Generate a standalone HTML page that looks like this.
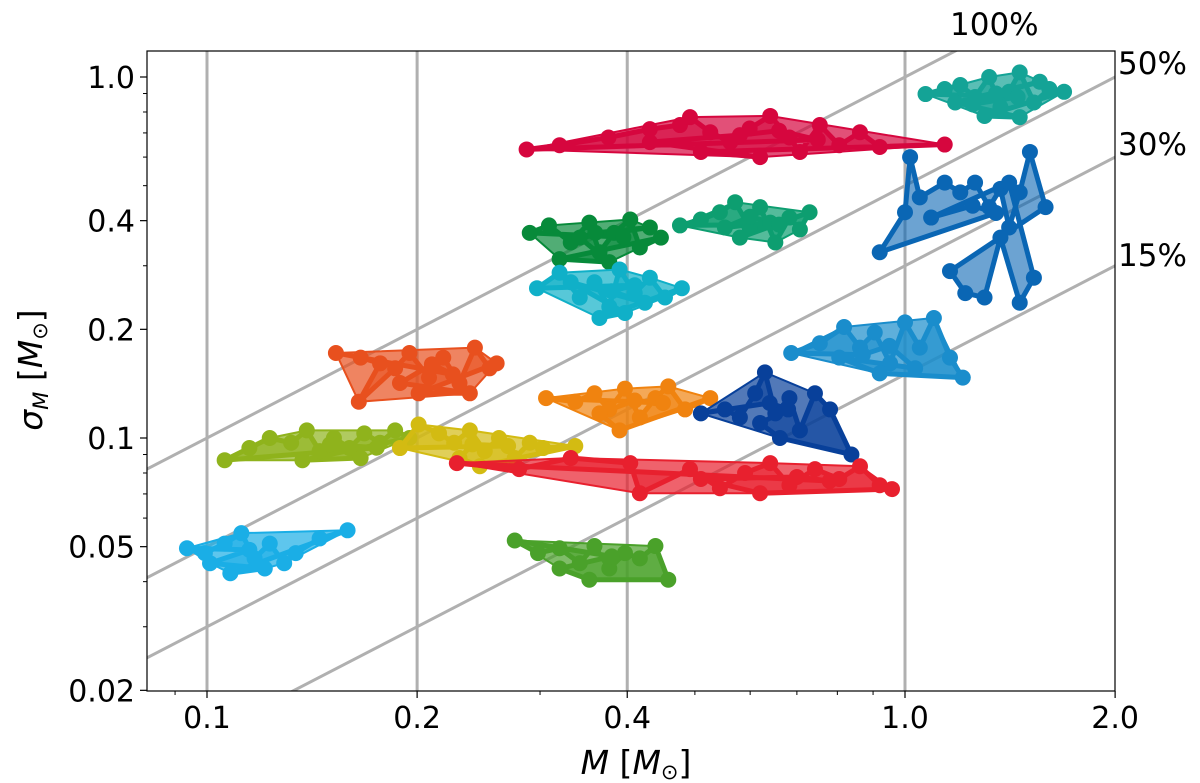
<!DOCTYPE html>
<html><head><meta charset="utf-8"><style>
body{margin:0;background:#fff;overflow:hidden;}
svg{display:block;}
svg text{font-family:"DejaVu Sans","Liberation Sans",sans-serif;fill:#000;}
</style></head><body>
<svg id="chart" width="1200" height="783" viewBox="0 0 1200 783" xmlns="http://www.w3.org/2000/svg">
<defs><clipPath id="clip"><rect x="147" y="51" width="968" height="640"/></clipPath></defs>
<g id="grid" clip-path="url(#clip)"></g>
<g id="marks" clip-path="url(#clip)"></g>
<rect x="147" y="51" width="968" height="640" fill="none" stroke="#000" stroke-width="1.2"/>
<g id="axes"></g>
<text x="636" y="774" font-size="33" text-anchor="middle"><tspan font-style="italic">M</tspan> [<tspan font-style="italic">M</tspan><tspan font-size="21" dy="5">⊙</tspan><tspan dy="-5">]</tspan></text>
<text transform="translate(42,370) rotate(-90)" font-size="33" text-anchor="middle"><tspan font-style="italic">σ</tspan><tspan font-style="italic" font-size="21" dy="6">M</tspan><tspan dy="-6"> [</tspan><tspan font-style="italic">M</tspan><tspan font-size="21" dy="5">⊙</tspan><tspan dy="-5">]</tspan></text>
</svg>
<script>
const xTicks=[0.1,0.2,0.4,1.0,2.0];
const xTickLabels=["0.1","0.2","0.4","1.0","2.0"];
const yTicks=[1.0,0.4,0.2,0.1,0.05,0.02];
const yTickLabels=["1.0","0.4","0.2","0.1","0.05","0.02"];
const ratioLines=[1.0,0.5,0.3,0.15];
const ratioLabels=["100%","50%","30%","15%"];
const colors=["#d6063e","#14a396","#078a3a","#0d9e70","#0a66b4","#10b0c8","#1a8dcc","#e8501e","#f0830f","#08409a","#8fb31c","#d3bb12","#e8202e","#1aaee6","#4aa12a"];
const c0M=[0.287,0.32,0.376,0.431,0.476,0.492,0.526,0.562,0.599,0.641,0.683,0.707,0.755,0.805,0.862,0.92,1.14,0.51,0.62,0.431,0.58,0.66,0.75];
const c0S=[0.63,0.647,0.68,0.717,0.736,0.774,0.703,0.66,0.72,0.78,0.68,0.62,0.736,0.647,0.703,0.64,0.65,0.62,0.6,0.66,0.69,0.71,0.67];
const c1M=[1.07,1.14,1.2,1.26,1.32,1.37,1.41,1.46,1.53,1.61,1.69,1.3,1.46,1.18,1.56,1.35,1.25,1.45];
const c1S=[0.897,0.926,0.95,0.88,1.0,0.825,0.91,1.03,0.85,0.926,0.91,0.78,0.774,0.85,0.97,0.9,0.84,0.88];
const c2M=[0.29,0.309,0.332,0.353,0.365,0.383,0.404,0.417,0.447,0.32,0.377,0.342,0.431,0.36,0.395];
const c2S=[0.37,0.388,0.348,0.395,0.327,0.37,0.403,0.337,0.359,0.313,0.307,0.359,0.383,0.37,0.36];
const c3M=[0.476,0.51,0.543,0.571,0.599,0.62,0.652,0.683,0.707,0.73,0.58,0.641,0.552,0.6,0.66];
const c3S=[0.388,0.403,0.422,0.45,0.383,0.436,0.348,0.408,0.378,0.422,0.359,0.395,0.383,0.41,0.39];
const c4M=[0.92,1.0,1.017,1.05,1.14,1.2,1.26,1.32,1.37,1.41,1.46,1.51,1.59,1.16,1.22,1.3,1.37,1.46,1.53,1.41,1.09,1.25,1.35];
const c4S=[0.327,0.422,0.6,0.464,0.51,0.479,0.51,0.436,0.49,0.383,0.479,0.62,0.436,0.29,0.252,0.245,0.359,0.237,0.278,0.51,0.408,0.44,0.42];
const c5M=[0.297,0.32,0.342,0.359,0.377,0.39,0.41,0.431,0.453,0.479,0.365,0.397,0.332,0.424,0.38,0.41];
const c5S=[0.26,0.287,0.245,0.27,0.231,0.293,0.252,0.278,0.245,0.26,0.215,0.222,0.27,0.237,0.255,0.265];
const c6M=[0.687,0.755,0.818,0.862,0.905,0.952,1.0,1.05,1.1,1.16,1.21,0.92,0.805,1.034,0.95,0.87];
const c6S=[0.172,0.183,0.203,0.178,0.196,0.161,0.209,0.178,0.215,0.167,0.147,0.151,0.167,0.156,0.18,0.17];
const c7M=[0.153,0.166,0.177,0.165,0.186,0.195,0.208,0.218,0.23,0.242,0.254,0.26,0.201,0.238,0.189,0.21,0.225];
const c7S=[0.172,0.167,0.161,0.126,0.156,0.172,0.147,0.167,0.142,0.178,0.156,0.161,0.133,0.133,0.142,0.16,0.15];
const c8M=[0.306,0.337,0.359,0.377,0.397,0.417,0.439,0.458,0.484,0.526,0.39,0.365,0.41,0.45];
const c8S=[0.129,0.126,0.133,0.12,0.137,0.114,0.129,0.139,0.12,0.129,0.105,0.117,0.127,0.125];
const c9M=[0.51,0.552,0.58,0.61,0.63,0.652,0.683,0.707,0.743,0.781,0.838,0.662,0.62,0.68,0.64];
const c9S=[0.117,0.12,0.114,0.133,0.152,0.117,0.129,0.105,0.133,0.12,0.09,0.1,0.11,0.12,0.125];
const c10M=[0.106,0.115,0.123,0.132,0.139,0.145,0.152,0.16,0.168,0.177,0.186,0.195,0.137,0.166,0.15,0.175];
const c10S=[0.0868,0.0938,0.1,0.097,0.105,0.092,0.1,0.0938,0.103,0.097,0.105,0.1,0.0868,0.088,0.096,0.094];
const c11M=[0.189,0.201,0.215,0.226,0.238,0.25,0.262,0.276,0.29,0.303,0.337,0.246,0.23,0.24,0.27];
const c11S=[0.0938,0.109,0.103,0.097,0.105,0.092,0.1,0.088,0.097,0.0938,0.095,0.0835,0.088,0.096,0.095];
const c12M=[0.228,0.28,0.332,0.404,0.417,0.492,0.543,0.59,0.641,0.683,0.743,0.805,0.862,0.92,0.958,0.62,0.51,0.7,0.78];
const c12S=[0.0852,0.082,0.088,0.0852,0.0703,0.082,0.0726,0.08,0.0852,0.074,0.082,0.077,0.0835,0.074,0.0722,0.0703,0.077,0.078,0.076];
const c13M=[0.0936,0.0993,0.106,0.112,0.117,0.123,0.129,0.134,0.145,0.159,0.108,0.121,0.101,0.115];
const c13S=[0.0495,0.048,0.051,0.0545,0.0464,0.051,0.045,0.048,0.0527,0.0555,0.0422,0.0435,0.045,0.049];
const c14M=[0.276,0.298,0.32,0.342,0.359,0.377,0.397,0.417,0.439,0.458,0.353,0.32,0.38];
const c14S=[0.052,0.048,0.0495,0.045,0.0502,0.0435,0.048,0.0464,0.0502,0.0405,0.0405,0.0435,0.047];
const clustersM=[c0M,c1M,c2M,c3M,c4M,c5M,c6M,c7M,c8M,c9M,c10M,c11M,c12M,c13M,c14M];
const clustersS=[c0S,c1S,c2S,c3S,c4S,c5S,c6S,c7S,c8S,c9S,c10S,c11S,c12S,c13S,c14S];

const NS="http://www.w3.org/2000/svg";
const X0=905, XD=698, Y0=77, YD=361;
const xs=m=>X0+Math.log10(m)*XD;
const ys=s=>Y0-Math.log10(s)*YD;
function mk(tag,attrs,parent){const e=document.createElementNS(NS,tag);for(const k in attrs)e.setAttribute(k,attrs[k]);parent.appendChild(e);return e;}
const grid=document.getElementById('grid'),marks=document.getElementById('marks'),axes=document.getElementById('axes');
xTicks.slice(0,4).forEach((t,i)=>{const l=mk('line',{x1:xs(t),x2:xs(t),y1:51,y2:691,stroke:'#b0b0b0','stroke-width':3},grid);

});
ratioLines.forEach((f,i)=>{const m1=0.05,m2=3;const l=mk('line',{x1:xs(m1),y1:ys(f*m1),x2:xs(m2),y2:ys(f*m2),stroke:'#b0b0b0','stroke-width':3},grid);

});
const lblPos=[[950,35],[1118,74],[1118,155],[1118,266]];
ratioLabels.forEach((t,i)=>{const e=mk('text',{x:lblPos[i][0],y:lblPos[i][1],'font-size':31},document.getElementById('chart'));e.textContent=t;

});
function hull(pts){pts=pts.slice().sort((a,b)=>a[0]-b[0]||a[1]-b[1]);const cr=(o,a,b)=>(a[0]-o[0])*(b[1]-o[1])-(a[1]-o[1])*(b[0]-o[0]);const lo=[],up=[];
for(const p of pts){while(lo.length>=2&&cr(lo[lo.length-2],lo[lo.length-1],p)<=0)lo.pop();lo.push(p);}
for(const p of pts.slice().reverse()){while(up.length>=2&&cr(up[up.length-2],up[up.length-1],p)<=0)up.pop();up.push(p);}
return lo.slice(0,-1).concat(up.slice(0,-1));}
clustersM.forEach((ms,ci)=>{const ss=clustersS[ci];const col=colors[ci];
const g=mk('g',{},marks);


const pts=ms.map((m,i)=>[xs(m),ys(ss[i])]);
if(ci!==4){const h=hull(pts);
const p=mk('polygon',{points:h.map(q=>q.join(',')).join(' '),fill:col,'fill-opacity':0.7,stroke:col,'stroke-width':2},g);

}
const pl=mk('polygon',{points:pts.map(q=>q.join(',')).join(' '),fill:col,'fill-opacity':0.6,stroke:col,'stroke-width':5,'stroke-linejoin':'round'},g);


pts.forEach(q=>{const c=mk('circle',{cx:q[0],cy:q[1],r:8,fill:col},g);

});
});
xTicks.forEach((t,i)=>{const x=xs(t);mk('line',{x1:x,x2:x,y1:691,y2:698,stroke:'#000','stroke-width':1.2},axes);
const e=mk('text',{x:x,y:728,'font-size':30,'text-anchor':'middle'},axes);e.textContent=xTickLabels[i];

});
[0.09,0.3,0.5,0.6,0.7,0.8,0.9].forEach(t=>{const x=xs(t);mk('line',{x1:x,x2:x,y1:691,y2:695,stroke:'#000','stroke-width':1},axes);});
yTicks.forEach((t,i)=>{const y=ys(t);mk('line',{x1:140,x2:147,y1:y,y2:y,stroke:'#000','stroke-width':1.2},axes);
const e=mk('text',{x:135,y:y+11,'font-size':30,'text-anchor':'end'},axes);e.textContent=yTickLabels[i];

});
[0.03,0.04,0.06,0.07,0.08,0.09,0.3,0.5,0.6,0.7,0.8,0.9].forEach(t=>{const y=ys(t);mk('line',{x1:143,x2:147,y1:y,y2:y,stroke:'#000','stroke-width':1},axes);});
</script>
</body></html>
